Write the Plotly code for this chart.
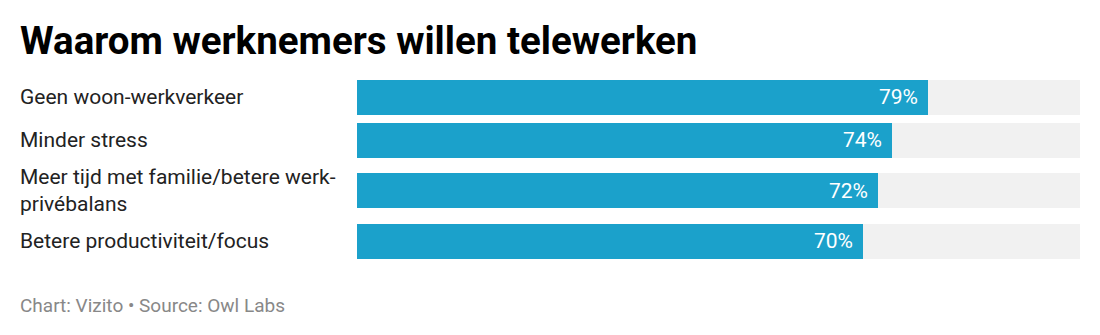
import plotly.graph_objects as go

categories = ["Geen woon-werkverkeer", "Minder stress",
              "Meer tijd met familie/betere werk-<br>privébalans",
              "Betere productiviteit/focus"]
values = [79, 74, 72, 70]
value_labels = ["79%", "74%", "72%", "70%"]
max_value = 100

# layout: row slots depend on number of label lines
SINGLE, EXTRA_LINE, BAR_H = 43, 15, 35
positions = []
cursor = 0.0
for c in categories:
    h = SINGLE + EXTRA_LINE * c.count("<br>")
    positions.append(cursor + h / 2)
    cursor += h

PLOT_L, PLOT_R, TOP = 357, 1080, 75
W, H = 1100, 335
plot_top_offset = 22 - positions[0]
ypos = [p + plot_top_offset for p in positions]
plot_h = 190
LEFT_X = (18 - PLOT_L) / (PLOT_R - PLOT_L)

fig = go.Figure()
fig.add_trace(go.Bar(x=[max_value] * len(values), y=ypos, orientation="h",
                     width=BAR_H, marker=dict(color="#f1f1f1", line_width=0),
                     hoverinfo="skip", showlegend=False))
fig.add_trace(go.Bar(x=values, y=ypos, orientation="h", width=BAR_H,
                     marker=dict(color="#1ba1cb", line_width=0),
                     showlegend=False))

for v, y, t in zip(values, ypos, value_labels):
    fig.add_annotation(x=v, y=y, xref="x", yref="y", text=t, showarrow=False,
                       xanchor="right", yanchor="middle", xshift=-8,
                       font=dict(size=21, color="white", family="Roboto"))

for y, c in zip(ypos, categories):
    fig.add_annotation(xref="paper", yref="y", x=LEFT_X,
                       y=y, text=c, showarrow=False, xanchor="left",
                       yanchor="middle", align="left",
                       font=dict(size=21, color="#222222", family="Roboto"))

fig.add_annotation(xref="paper", yref="paper", x=LEFT_X,
                   y=1, yshift=TOP - 40, text="<b>Waarom werknemers willen telewerken</b>",
                   showarrow=False, xanchor="left", yanchor="middle",
                   font=dict(size=38.5, color="#000000", family="Roboto"))
fig.add_annotation(xref="paper", yref="paper", x=LEFT_X,
                   y=0, yshift=-(305 - (TOP + plot_h)), text="Chart: Vizito • Source: Owl Labs",
                   showarrow=False, xanchor="left", yanchor="middle",
                   font=dict(size=19, color="#888888", family="Roboto"))

fig.update_layout(
    width=W, height=H, barmode="overlay", bargap=0,
    margin=dict(l=PLOT_L, r=W - PLOT_R, t=TOP, b=H - TOP - plot_h, pad=0),
    paper_bgcolor="white", plot_bgcolor="white",
    xaxis=dict(range=[0, max_value], visible=False, fixedrange=True),
    yaxis=dict(range=[plot_h, 0], visible=False, fixedrange=True),
)
fig.write_html("out.html")
